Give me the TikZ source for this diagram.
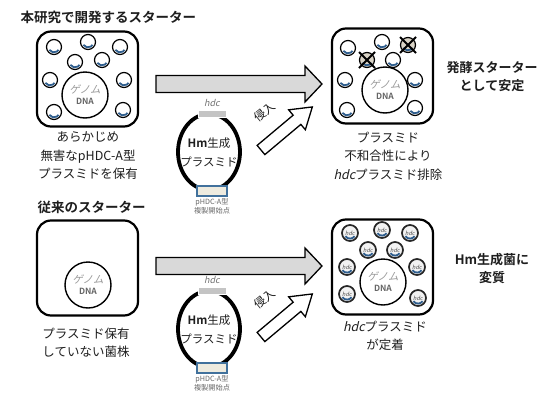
\documentclass[tikz,border=0pt]{standalone}
\usepackage{fontspec}
\setmainfont{Noto Sans CJK JP}[BoldFont={Noto Sans CJK JP Bold}]
\newfontfamily\jpslant[FakeSlant=0.22]{Noto Sans CJK JP}
\usetikzlibrary{calc,shapes.geometric}

\definecolor{arrowgray}{HTML}{D9D9D9}
\definecolor{bandblue}{HTML}{2F5E8E}
\definecolor{oriblue}{HTML}{41719C}
\definecolor{oricream}{HTML}{EEEBDF}
\definecolor{bargray}{HTML}{C4C4C4}
\definecolor{inkgray}{HTML}{1E1E1E}
\definecolor{lostfill}{HTML}{D9D3C6}

\tikzset{
  cellbox/.style={draw, line width=2.2pt, rounded corners=14pt,
    minimum width=101pt, minimum height=95pt, inner sep=0pt},
  genome/.style={circle, draw, line width=1.4pt, fill=white,
    minimum size=46pt, inner sep=0pt, align=center},
  caption/.style={align=center, text=inkgray,
    font=\fontsize{12.5}{18.5}\selectfont},
  sidenote/.style={align=center, text=inkgray,
    font=\bfseries\fontsize{13}{18}\selectfont},
  heading/.style={anchor=west, text=inkgray,
    font=\bfseries\fontsize{13.5}{16}\selectfont},
  bigarrow/.style={draw, line width=1.3pt, fill=arrowgray, line join=miter},
  pusharrow/.style={draw, line width=1.3pt, fill=white, line join=miter},
  plasring/.style={circle, draw, line width=1.2pt, fill=white,
    minimum size=15pt, inner sep=0pt},
  band/.style={draw=bandblue, line width=1.8pt},
  hdcring/.style={circle, draw=black!85, line width=1.7pt, fill=black!5,
    minimum size=16pt, inner sep=0pt, font=\jpslant\fontsize{5.5}{6}\selectfont,
    text=black!70},
  vector/.style={ellipse, draw, line width=3.8pt, minimum width=62pt,
    minimum height=76pt, inner sep=0pt},
  hdcbar/.style={fill=bargray, draw=white, line width=0.8pt,
    minimum width=28pt, minimum height=7pt, inner sep=0pt},
  oribox/.style={fill=oricream, draw=oriblue, line width=1.3pt,
    minimum width=30pt, minimum height=10pt, inner sep=0pt},
  smalllabel/.style={align=center, text=black!60,
    font=\fontsize{7.2}{9}\selectfont},
  % a small plasmid with its blue replication band
  plasmid/.pic={
    \node[plasring] (-c) {};
    \draw[band] ($(-c.center)+(212:5.4pt)$) arc[start angle=212, end angle=328, radius=5.4pt];
  },
  % an hdc plasmid
  hdcplasmid/.pic={
    \node[hdcring] (-c) {hdc};
    \draw[band] ($(-c.center)+(215:5.6pt)$) arc[start angle=215, end angle=325, radius=5.6pt];
  },
  % an hdc plasmid being expelled
  lostplasmid/.pic={
    \node[plasring, fill=lostfill] (-c) {};
    \draw[band] ($(-c.center)+(212:5.4pt)$) arc[start angle=212, end angle=328, radius=5.4pt];
    \draw[line width=1.8pt] ($(-c.center)+(-8pt,8pt)$) -- ($(-c.center)+(8pt,-8pt)$)
                            ($(-c.center)+(-8pt,-8pt)$) -- ($(-c.center)+(8pt,8pt)$);
  },
}

\newcommand\genometext{{\jpslant\fontsize{10.5}{12}\selectfont\color{black!40}ゲノム}\\[-1pt]{\bfseries\fontsize{8.5}{10}\selectfont\color{black!60}DNA}}

\begin{document}
\begin{tikzpicture}[x=1pt, y=-1pt]
\useasboundingbox (0,0) rectangle (547,394);

% ---------- upper row: new starter ----------
\node[heading] (titleA) at (17,17) {本研究で開発するスターター};

\node[cellbox] (cellA) at (87.5,79) {};
\node[genome] (dnaA) at (85,95) {\genometext};
\pic (pA1) at (54,47) {plasmid};
\pic (pA2) at (88,42) {plasmid};
\pic (pA3) at (120,47) {plasmid};
\pic (pA4) at (75,62) {plasmid};
\pic (pA5) at (102,60) {plasmid};
\pic (pA6) at (50,80) {plasmid};
\pic (pA7) at (124,80) {plasmid};
\pic (pA8) at (54,112) {plasmid};
\pic (pA9) at (123,110) {plasmid};
\node[caption] (capA) at (88,156) {あらかじめ\\無害なpHDC-A型\\プラスミドを保有};

\coordinate (arrA-s) at (156,84);
\coordinate (arrA-e) at (322,84);
\draw[bigarrow] ($(arrA-s)+(0,-8.5)$) -- ($(arrA-e)+(-17,-8.5)$) -- ($(arrA-e)+(-17,-18)$)
  -- (arrA-e) -- ($(arrA-e)+(-17,18)$) -- ($(arrA-e)+(-17,8.5)$) -- ($(arrA-s)+(0,8.5)$) -- cycle;

\node[vector] (vecA) at (209,152) {};
\node[hdcbar] (barA) at ($(vecA.north)+(3,2)$) {};
\node[font=\jpslant\fontsize{9}{10}\selectfont, text=black!55] (hdcA) at ($(barA.north)+(0,-7)$) {hdc};
\node[oribox] (oriA) at ($(vecA.south)+(3,-1)$) {};
\node[align=center, font=\fontsize{11.5}{19}\selectfont, text=inkgray] (vtxtA) at (vecA.center) {{\bfseries Hm}生成\\プラスミド};
\node[smalllabel] (orilabA) at ($(oriA.south)+(0,10)$) {pHDC-A型\\複製開始点};

\coordinate (pushA-s) at (261,150);
\begin{scope}[shift={(pushA-s)}, rotate=40]
  \draw[pusharrow] (0,-6) -- (47,-6) -- (47,-13) -- (67,0) -- (47,13) -- (47,6) -- (0,6) -- cycle;
\end{scope}
\node[rotate=40, font=\fontsize{11.5}{12}\selectfont, text=inkgray, inner sep=0pt] (pushlabA) at (265,112) {侵入};

\node[cellbox] (cellB) at (382.5,76) {};
\node[genome] (dnaB) at (385,90) {\genometext};
\pic (pB1) at (348,48) {plasmid};
\pic (pB2) at (382,42) {plasmid};
\pic (pB3) at (408,45) {lostplasmid};
\pic (pB4) at (367,60) {lostplasmid};
\pic (pB5) at (393,60) {plasmid};
\pic (pB6) at (345,80) {plasmid};
\pic (pB7) at (415,80) {plasmid};
\pic (pB8) at (347,110) {plasmid};
\pic (pB9) at (415,108) {plasmid};
\node[caption] (capB) at (388,156) {プラスミド\\不和合性により\\{\jpslant hdc}プラスミド排除};

\node[sidenote] (noteB) at (492,77) {発酵スターター\\として安定};

% ---------- lower row: conventional starter ----------
\node[heading] (titleC) at (34,207) {従来のスターター};

\node[cellbox] (cellC) at (87.5,268) {};
\node[genome] (dnaC) at (88,285) {\genometext};
\node[caption] (capC) at (86,343) {プラスミド保有\\していない菌株};

\coordinate (arrC-s) at (156,266);
\coordinate (arrC-e) at (322,266);
\draw[bigarrow] ($(arrC-s)+(0,-8.5)$) -- ($(arrC-e)+(-17,-8.5)$) -- ($(arrC-e)+(-17,-18)$)
  -- (arrC-e) -- ($(arrC-e)+(-17,18)$) -- ($(arrC-e)+(-17,8.5)$) -- ($(arrC-s)+(0,8.5)$) -- cycle;

\node[vector] (vecC) at (209,329) {};
\node[hdcbar] (barC) at ($(vecC.north)+(3,2)$) {};
\node[font=\jpslant\fontsize{9}{10}\selectfont, text=black!55] (hdcC) at ($(barC.north)+(0,-7)$) {hdc};
\node[oribox] (oriC) at ($(vecC.south)+(3,-1)$) {};
\node[align=center, font=\fontsize{11.5}{19}\selectfont, text=inkgray] (vtxtC) at (vecC.center) {{\bfseries Hm}生成\\プラスミド};
\node[smalllabel] (orilabC) at ($(oriC.south)+(0,10)$) {pHDC-A型\\複製開始点};

\coordinate (pushC-s) at (261,337);
\begin{scope}[shift={(pushC-s)}, rotate=40]
  \draw[pusharrow] (0,-6) -- (47,-6) -- (47,-13) -- (67,0) -- (47,13) -- (47,6) -- (0,6) -- cycle;
\end{scope}
\node[rotate=40, font=\fontsize{11.5}{12}\selectfont, text=inkgray, inner sep=0pt] (pushlabC) at (265,299) {侵入};

\node[cellbox] (cellD) at (382.5,267) {};
\node[genome] (dnaD) at (383,282) {\genometext};
\pic (pD1) at (350,233) {hdcplasmid};
\pic (pD2) at (382,230) {hdcplasmid};
\pic (pD3) at (410,233) {hdcplasmid};
\pic (pD4) at (368,250) {hdcplasmid};
\pic (pD5) at (395,250) {hdcplasmid};
\pic (pD6) at (347,267) {hdcplasmid};
\pic (pD7) at (417,267) {hdcplasmid};
\pic (pD8) at (347,294) {hdcplasmid};
\pic (pD9) at (418,298) {hdcplasmid};
\node[caption] (capD) at (385,336) {{\jpslant hdc}プラスミド\\が定着};

\node[sidenote] (noteD) at (492,269) {Hm生成菌に\\変質};
\end{tikzpicture}
\end{document}
